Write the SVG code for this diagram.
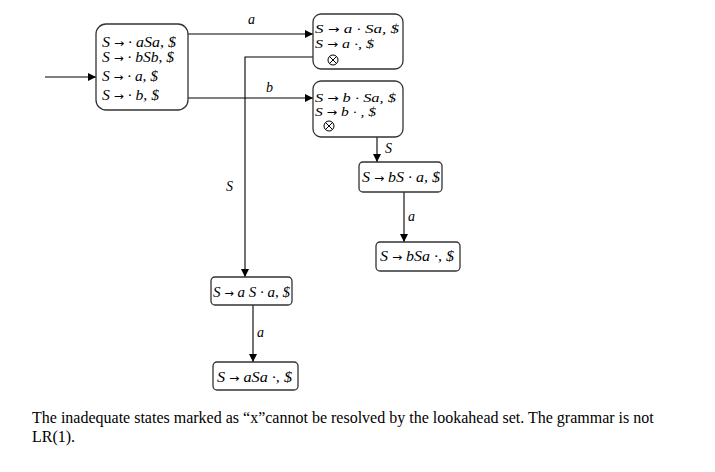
<svg xmlns="http://www.w3.org/2000/svg" width="715" height="472" viewBox="0 0 715 472">
<defs>
<marker id="ah" viewBox="0 0 10 10" refX="10" refY="5" markerWidth="8" markerHeight="8" markerUnits="userSpaceOnUse" orient="auto">
<path d="M0,0 L10,5 L0,10 z" fill="#000"/>
</marker>
<style>
.box{fill:#fff;stroke:#333;stroke-width:1.3}
.t{font-family:"Liberation Serif","DejaVu Serif",serif;font-style:italic;font-size:14.5px;fill:#000}
.s{font-size:13.5px}
.ar{font-family:"DejaVu Sans",sans-serif;font-style:normal;font-size:11px}
.lbl{font-family:"Liberation Serif","DejaVu Serif",serif;font-style:italic;font-size:14px;fill:#000}
.e{fill:none;stroke:#000;stroke-width:1.1;marker-end:url(#ah)}
.x{fill:none;stroke:#000;stroke-width:1}
.cap{font-family:"Liberation Serif",serif;font-size:16px;fill:#000}
</style>
</defs>
<rect width="715" height="472" fill="#fff"/>
<g id="connectors">
<line class="e" x1="45" y1="77" x2="96" y2="77"/>
<line class="e" x1="188" y1="34" x2="313" y2="34"/>
<text class="lbl" x="248" y="24">a</text>
<line class="e" x1="188" y1="98" x2="313" y2="98"/>
<text class="lbl" x="266" y="92">b</text>
<polyline class="e" points="313,57 245,57 245,277"/>
<text class="lbl" x="226" y="191">S</text>
<line class="e" x1="377" y1="137" x2="377" y2="162"/>
<text class="lbl" x="385" y="153">S</text>
<line class="e" x1="404" y1="192" x2="404" y2="242"/>
<text class="lbl" x="408" y="221">a</text>
<line class="e" x1="253" y1="305" x2="253" y2="362"/>
<text class="lbl" x="257" y="337">a</text>
</g>
<g id="n1">
<rect class="box" x="96" y="24" width="92" height="86" rx="10"/>
<text class="t" x="102" y="47" textLength="74" lengthAdjust="spacingAndGlyphs">S <tspan class="ar">→</tspan> · aSa, $</text>
<text class="t" x="102" y="62" textLength="72" lengthAdjust="spacingAndGlyphs">S <tspan class="ar">→</tspan> · bSb, $</text>
<text class="t" x="102" y="81" textLength="56" lengthAdjust="spacingAndGlyphs">S <tspan class="ar">→</tspan> · a, $</text>
<text class="t" x="102" y="100" textLength="57" lengthAdjust="spacingAndGlyphs">S <tspan class="ar">→</tspan> · b, $</text>
</g>
<g id="n2">
<rect class="box" x="313" y="14" width="90" height="55" rx="8"/>
<text class="t s" x="315" y="33" textLength="84" lengthAdjust="spacingAndGlyphs">S <tspan class="ar">→</tspan>  a · Sa, $</text>
<text class="t s" x="315" y="47.5" textLength="59" lengthAdjust="spacingAndGlyphs">S <tspan class="ar">→</tspan>  a ·, $</text>
<circle class="x" cx="333" cy="60" r="5"/>
<path class="x" d="M329.5,56.5 L336.5,63.5 M336.5,56.5 L329.5,63.5"/>
</g>
<g id="n3">
<rect class="box" x="313" y="81" width="90" height="56" rx="8"/>
<text class="t s" x="315" y="101.5" textLength="81" lengthAdjust="spacingAndGlyphs">S <tspan class="ar">→</tspan> b  · Sa, $</text>
<text class="t s" x="315" y="115.5" textLength="61" lengthAdjust="spacingAndGlyphs">S <tspan class="ar">→</tspan> b  · , $</text>
<circle class="x" cx="329" cy="126" r="5"/>
<path class="x" d="M325.5,122.5 L332.5,129.5 M332.5,122.5 L325.5,129.5"/>
</g>
<g id="n4">
<rect class="box" x="359" y="162" width="83" height="30" rx="4"/>
<text class="t" x="362" y="182" textLength="78" lengthAdjust="spacingAndGlyphs">S <tspan class="ar">→</tspan> bS · a, $</text>
</g>
<g id="n5">
<rect class="box" x="376" y="242" width="84" height="29" rx="4"/>
<text class="t" x="380" y="261" textLength="74" lengthAdjust="spacingAndGlyphs">S <tspan class="ar">→</tspan> bSa ·, $</text>
</g>
<g id="n6">
<rect class="box" x="211" y="277" width="81" height="28" rx="4"/>
<text class="t" x="213" y="297" textLength="77" lengthAdjust="spacingAndGlyphs">S <tspan class="ar">→</tspan> a S · a, $</text>
</g>
<g id="n7">
<rect class="box" x="213" y="362" width="85" height="28" rx="4"/>
<text class="t" x="217" y="382" textLength="75" lengthAdjust="spacingAndGlyphs">S <tspan class="ar">→</tspan> aSa ·, $</text>
</g>
<g id="caption">
<text class="cap" x="32" y="423">The inadequate states marked as “x”cannot be resolved by the lookahead set. The grammar is not</text>
<text class="cap" x="32" y="442">LR(1).</text>
</g>
</svg>
